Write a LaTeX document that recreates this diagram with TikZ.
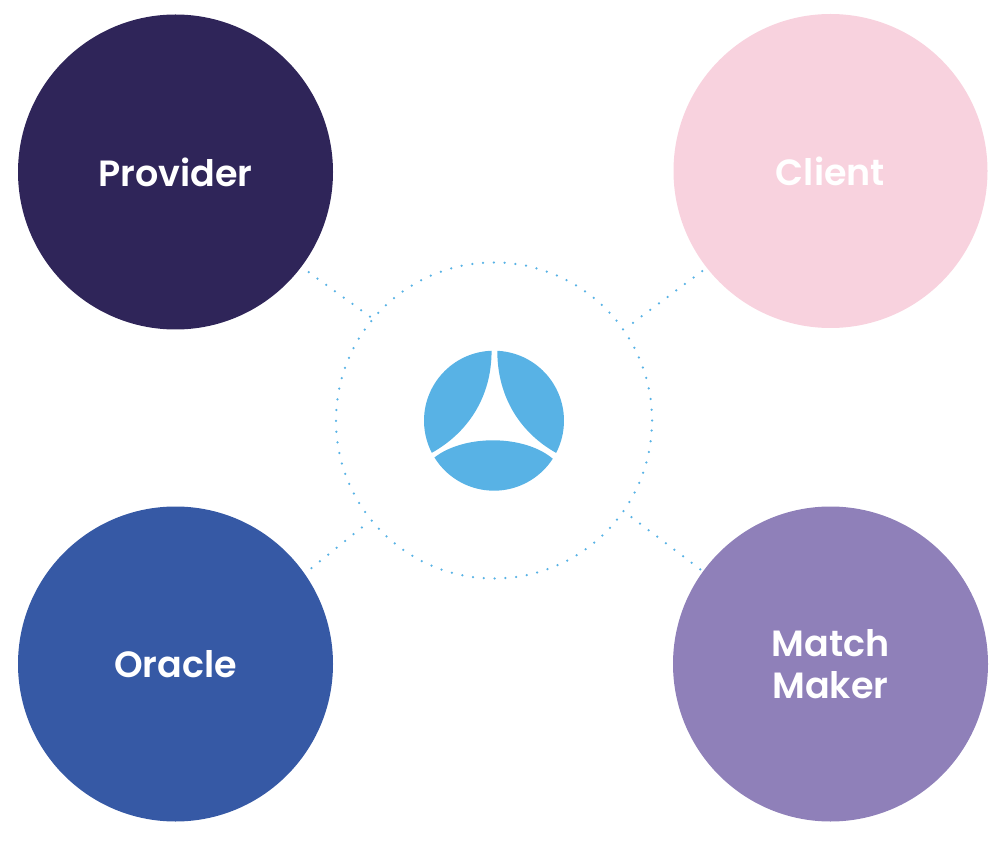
\documentclass[tikz,border=0pt]{standalone}
\usepackage{fontspec}
\setmainfont{Poppins}[BoldFont={Poppins SemiBold}]
\definecolor{dotblue}{HTML}{58B2E5}
\definecolor{provcol}{HTML}{2F2559}
\definecolor{clientcol}{HTML}{F8D2DE}
\definecolor{oraclecol}{HTML}{3659A5}
\definecolor{matchcol}{HTML}{8F80B9}
\tikzset{
  party/.style={circle,minimum size=315pt,inner sep=0pt,align=center,text=white,font=\fontsize{36.5}{41.5}\selectfont\bfseries},
  dots/.style={draw=dotblue,line width=2.5pt,line cap=round,dash pattern=on 0pt off 10.8pt},
  petal/.style={fill=dotblue,draw=none},
}
\begin{document}
\begin{tikzpicture}[x=1pt,y=-1pt]
\useasboundingbox (0,0) rectangle (1007,842);
\node[party,fill=provcol] (prov) at (175.5,172) {Provider};
\node[party,fill=clientcol,minimum size=314pt] (client) at (830.5,171) {Client};
\node[party,fill=oraclecol] (oracle) at (175.5,664) {Oracle};
\node[party,fill=matchcol] (match) at (830.5,664) {Match\\Maker};
\node[circle,dots,minimum size=316pt,inner sep=0pt] (hub) at (494,420.5) {};
\draw[dots,shorten <=9pt] (prov.-37.7) -- (hub.140.8);
\draw[dots,shorten <=5.5pt] (client.218.4) -- (hub.35.2);
\draw[dots,shorten <=8.7pt] (oracle.35.7) -- (hub.219.9);
\draw[dots,shorten <=3.3pt] (match.144.2) -- (hub.-35.4);
\begin{scope}[shift={(494,420.7)},x=0.3333pt,y=0.3333pt]
\fill[petal] (92:210) arc[start angle=92,end angle=207.3,radius=210]
  .. controls (-82,-38) and (-7,67) .. cycle;
\fill[petal] (87.3:210) arc[start angle=87.3,end angle=-27.4,radius=210]
  .. controls (82,-38) and (10,67) .. cycle;
\fill[petal] (211.7:210) arc[start angle=211.7,end angle=327.1,radius=210]
  .. controls (90,-41) and (-90,-41) .. cycle;
\end{scope}
\end{tikzpicture}
\end{document}
